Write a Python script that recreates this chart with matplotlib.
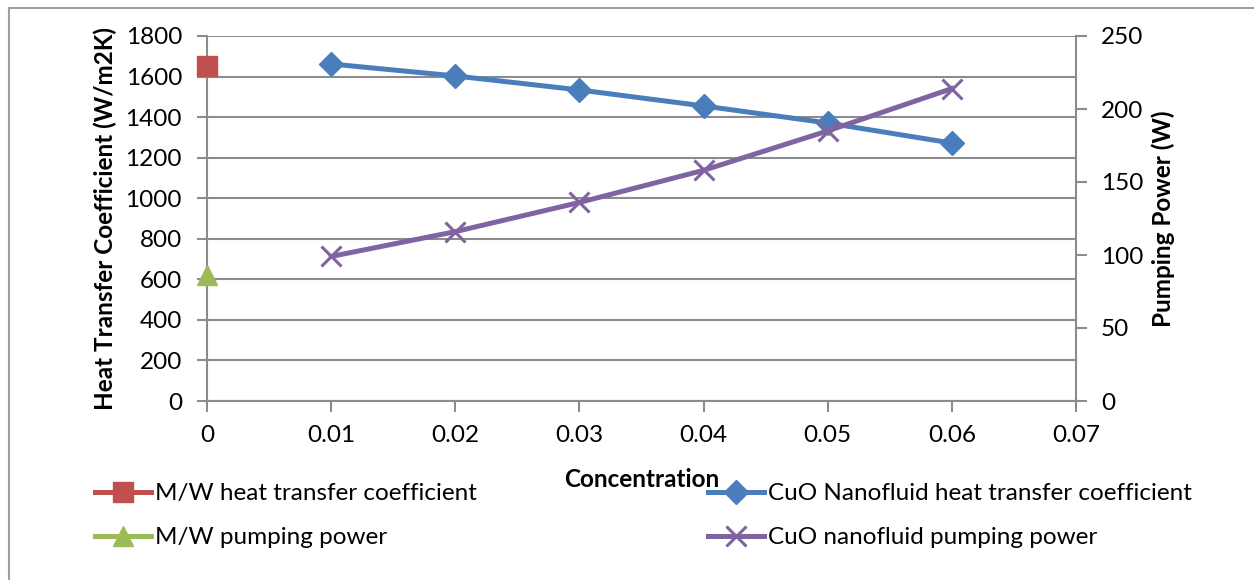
import matplotlib.pyplot as plt
from matplotlib.patches import Rectangle
from matplotlib.lines import Line2D

plt.rcParams['font.family'] = ['Lato', 'DejaVu Sans']

# data
conc_base = [0.0]
mw_htc = [1650]
mw_pump = [86]

conc = [0.01, 0.02, 0.03, 0.04, 0.05, 0.06]
cuo_htc = [1662, 1603, 1534, 1455, 1371, 1272]
cuo_pump = [99, 116, 136, 158, 185, 214]

x_ticks = [0, 0.01, 0.02, 0.03, 0.04, 0.05, 0.06, 0.07]
x_labels = ['0', '0.01', '0.02', '0.03', '0.04', '0.05', '0.06', '0.07']
left_ticks = list(range(0, 1801, 200))
right_ticks = list(range(0, 251, 50))

blue = '#4a7ebb'
red = '#c0504d'
green = '#9bbb59'
purple = '#8064a2'
grey = '#8c8c8c'
fs = 17.5

fig = plt.figure(figsize=(12.54, 5.8), dpi=100)
fig.patches.append(Rectangle((9 / 1254, -0.1), 1.2, 1 - 8 / 580 + 0.1,
                             transform=fig.transFigure, fill=False,
                             edgecolor='#a0a0a0', linewidth=1.5))

ax = fig.add_axes([207 / 1254, 1 - 401 / 580, 869 / 1254, 365 / 580])
ax2 = ax.twinx()

ax.plot(conc, cuo_htc, color=blue, lw=3.6, marker='D', ms=12, zorder=3)
ax.plot(conc_base, mw_htc, color=red, lw=3.6, marker='s', ms=14, ls='none',
        clip_on=False, zorder=3)
ax2.plot(conc, cuo_pump, color=purple, lw=3.6, marker='x', ms=14, mew=2.2,
         zorder=3)
ax2.plot(conc_base, mw_pump, color=green, marker='^', ms=14, ls='none',
         clip_on=False, zorder=3)

ax.set_xlim(0, 0.07)
ax.set_ylim(0, 1800)
ax2.set_ylim(0, 250)
ax.set_xticks(x_ticks)
ax.set_xticklabels(x_labels)
ax.set_yticks(left_ticks)
ax2.set_yticks(right_ticks)

ax.grid(axis='y', color=grey, lw=1.5)
ax.set_axisbelow(True)
for a in (ax, ax2):
    a.spines['top'].set_visible(False)
    for s in ('left', 'right', 'bottom'):
        a.spines[s].set_color(grey)
        a.spines[s].set_linewidth(1.5)
ax.spines['right'].set_visible(False)
ax2.spines['left'].set_visible(False)
ax2.spines['bottom'].set_visible(False)

ax.tick_params(axis='x', direction='out', length=8, width=1.5, color=grey,
               labelsize=fs, pad=9)
ax.tick_params(axis='y', direction='out', length=7, width=1.5, color=grey,
               labelsize=fs, pad=11)
ax2.tick_params(axis='y', direction='out', length=8, width=1.5, color=grey,
                labelsize=fs, pad=10)

ax.set_xlabel('Concentration', fontsize=fs, fontweight='bold', labelpad=16)
ax.set_ylabel('Heat Transfer Coefficient (W/m2K)', fontsize=fs,
              fontweight='bold', labelpad=6)
ax2.set_ylabel('Pumping Power (W)', fontsize=fs, fontweight='bold',
               labelpad=6)

h_red = Line2D([], [], color=red, lw=3.6, marker='s', ms=14)
h_green = Line2D([], [], color=green, lw=3.6, marker='^', ms=14)
h_blue = Line2D([], [], color=blue, lw=3.6, marker='D', ms=12)
h_purple = Line2D([], [], color=purple, lw=3.6, marker='x', ms=14, mew=2.2)

leg_kw = dict(loc='upper left', frameon=False, fontsize=fs, handlelength=2.3,
              handletextpad=0.15, labelspacing=0.95, borderaxespad=0,
              borderpad=0)
fig.legend([h_red, h_green],
           ['M/W heat transfer coefficient', 'M/W pumping power'],
           bbox_to_anchor=(95 / 1254, 1 - 483 / 580), **leg_kw)
fig.legend([h_blue, h_purple],
           ['CuO Nanofluid heat transfer coefficient',
            'CuO nanofluid pumping power'],
           bbox_to_anchor=(708 / 1254, 1 - 483 / 580), **leg_kw)

fig.savefig('out.png', dpi=100)
